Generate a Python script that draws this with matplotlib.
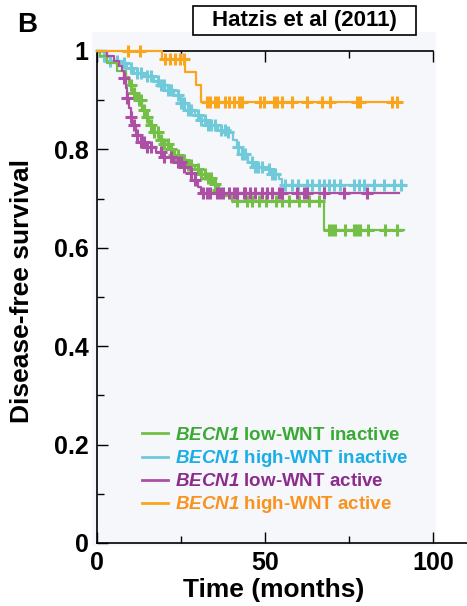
import matplotlib
matplotlib.use('Agg')
import numpy as np
from matplotlib import pyplot as plt
from matplotlib.patches import Rectangle

plt.rcParams['font.family'] = ['Liberation Sans', 'DejaVu Sans']
plt.rcParams['font.weight'] = 'bold'
plt.rcParams['mathtext.fontset'] = 'custom'
plt.rcParams['mathtext.rm'] = 'Liberation Sans:bold'
plt.rcParams['mathtext.bfit'] = 'Liberation Sans:italic:bold'

# Kaplan-Meier steps: event time (months) -> survival after it
green_t = [0, 1, 3, 6, 8.5, 9.5, 10.5, 12, 13.5, 14.5, 15.5, 17, 18.5, 20, 21.5,
	23, 25, 27, 29, 31, 33, 34.5, 36, 37, 40, 67.4, 91.2]
green_s = [1.0, 0.99, 0.975, 0.96, 0.948, 0.93, 0.915, 0.9, 0.88, 0.865, 0.85,
	0.835, 0.82, 0.81, 0.8, 0.788, 0.778, 0.768, 0.76, 0.75, 0.742, 0.73, 0.718,
	0.705, 0.695, 0.636, 0.636]
green_cens = [10, 11, 12.5, 13, 14, 15, 16, 17, 18, 19, 20, 21, 22, 23, 24, 25,
	26, 27, 28, 30, 31, 32, 33, 34, 35, 36, 41.6, 44.6, 46.1, 48.1, 50.1, 53.1,
	55.1, 57.1, 60.1, 63.1, 66.1, 68.9, 69.9, 70.8, 73.8, 76.3, 77.3, 78.3, 80.7,
	85.7, 89.2]

cyan_t = [0, 2, 4, 7, 9, 11, 14, 17, 19, 21, 23, 25, 27, 29, 31, 33, 36, 39,
	40.5, 41.5, 43, 45, 47, 50, 52, 54, 55, 91.7]
cyan_s = [1.0, 0.99, 0.98, 0.975, 0.965, 0.955, 0.95, 0.94, 0.93, 0.92, 0.91,
	0.895, 0.88, 0.87, 0.86, 0.85, 0.84, 0.835, 0.82, 0.805, 0.79, 0.775, 0.765,
	0.76, 0.75, 0.74, 0.727, 0.727]
cyan_cens = [2, 4, 6, 8, 10, 12, 13, 15, 16, 18, 19, 20, 21, 22, 24, 25, 26, 27,
	28, 30, 31, 32, 33, 34, 35, 37, 38, 39, 42, 43, 44, 46, 47, 48, 49, 51, 52,
	53, 55.9, 57.9, 59.9, 62.4, 63.9, 65.9, 67.4, 68.9, 70.4, 72.3, 76.3, 77.8,
	79.3, 82.3, 85.3, 88.3, 90.3]

magenta_t = [0, 3, 5, 6.5, 7.5, 8, 8.5, 9, 9.5, 10, 10.5, 11.5, 13, 15, 17.5,
	20, 23, 26, 28, 29, 30, 31, 89.7]
magenta_s = [1.0, 0.99, 0.98, 0.97, 0.96, 0.945, 0.925, 0.905, 0.885, 0.865,
	0.85, 0.83, 0.815, 0.805, 0.795, 0.785, 0.775, 0.765, 0.752, 0.738, 0.724,
	0.711, 0.711]
magenta_cens = [8, 9, 10, 11, 12, 13, 14, 15, 16, 19, 20, 22, 24, 25, 26, 28, 29,
	31.6, 32.6, 33.6, 35.6, 36.6, 37.6, 39.1, 40.6, 41.6, 43.6, 44.0, 45.6, 47.0,
	49.0, 50.6, 52.0, 54.1, 55.1, 59.4, 61.4, 62.4, 67.4, 73.3, 80.3]

orange_t = [0, 19.2, 26.2, 29.5, 31.0, 89.6]
orange_s = [1.0, 0.984, 0.958, 0.93, 0.897, 0.897]
orange_cens = [9.3, 12.8, 20.2, 21.7, 23.2, 24.7, 25.8, 32.6, 33.6, 35.1, 36.1,
	38.1, 39.1, 40.6, 42.1, 43.1, 48.5, 49.5, 52.5, 53.5, 55.0, 57.9, 62.4, 66.9,
	69.3, 77.3, 78.3, 87.7, 89.3]

labels = [r'$\mathbfit{BECN1}$ low-WNT inactive',
	r'$\mathbfit{BECN1}$ high-WNT inactive',
	r'$\mathbfit{BECN1}$ low-WNT active',
	r'$\mathbfit{BECN1}$ high-WNT active']
line_colors = ['#74bf45', '#70cad9', '#ae4fa6', '#f9a61c']
text_colors = ['#3aaa35', '#1aaee5', '#8b2c8c', '#f7931e']

fig = plt.figure(figsize=(4.67, 6.06), dpi=100)
fig.patches.append(Rectangle((92/467, 60/606), 344/467, 514/606,
	transform=fig.transFigure, fc='#f6f7fa', ec='none', zorder=-5))
ax = fig.add_axes([97/467, 63/606, 370/467, 492/606])
ax.set_facecolor('none')
ax.set_zorder(2)

def km(times, surv, cens, color, label, z):
	times = np.asarray(times)
	surv = np.asarray(surv)
	ax.step(times, surv, where='post', color=color, lw=1.6, label=label,
		clip_on=False, zorder=z)
	idx = np.searchsorted(times, cens, side='right') - 1
	ax.plot(cens, surv[idx], ls='none', marker='+', ms=8, mew=2.2,
		color=color, clip_on=False, zorder=z)

km(cyan_t, cyan_s, cyan_cens, line_colors[1], labels[1], 3)
km(green_t, green_s, green_cens, line_colors[0], labels[0], 4)
km(magenta_t, magenta_s, magenta_cens, line_colors[2], labels[2], 5)
km(orange_t, orange_s, orange_cens, line_colors[3], labels[3], 6)

ax.set_xlim(0, 110)
ax.set_ylim(0, 1)
ax.set_xticks([0, 50, 100])
ax.set_xticks([25, 75], minor=True)
ax.set_yticks([0, 0.2, 0.4, 0.6, 0.8, 1])
ax.set_yticklabels(['0', '0.2', '0.4', '0.6', '0.8', '1'])
ax.set_yticks([0.1, 0.3, 0.5, 0.7, 0.9], minor=True)
ax.tick_params(which='both', direction='in', top=True, right=False, width=1,
	labelsize=18, pad=6)
ax.tick_params(which='major', length=8)
ax.tick_params(which='minor', length=5)
for s in ('left', 'bottom', 'top'):
	ax.spines[s].set_linewidth(1.2)
ax.spines['top'].set_bounds(0, 100)
ax.spines['right'].set_visible(False)

ax.set_xlabel('Time (months)', fontsize=19, fontweight='bold', va='center')
ax.xaxis.set_label_coords(0.478, -0.0955)
ax.set_ylabel('Disease-free survival', fontsize=19, fontweight='bold',
	va='center')
ax.yaxis.set_label_coords(-0.203, 0.512)

h, l = ax.get_legend_handles_labels()
order = [l.index(x) for x in labels]
leg = ax.legend([h[i] for i in order], [l[i] for i in order], loc='lower left',
	bbox_to_anchor=(0.121, 0.056), frameon=False, fontsize=13.5,
	handlelength=1.42, handletextpad=0.36, labelspacing=0.22, borderpad=0,
	borderaxespad=0)
for txt, c in zip(leg.get_texts(), text_colors):
	txt.set_color(c)
for ln in leg.get_lines():
	ln.set_linewidth(2)

fig.patches.append(Rectangle((193/467, 571/606), 223/467, 29/606,
	transform=fig.transFigure, fc='white', ec='black', lw=1.2, zorder=1))
fig.text(304.5/467, 1 - 20.5/606, 'Hatzis et al (2011)', fontsize=16,
	fontweight='bold', ha='center', va='center', zorder=2)
fig.text(27/467, 1 - 25/606, 'B', fontsize=20, fontweight='bold',
	ha='center', va='center')

fig.savefig('out.png', dpi=100)
